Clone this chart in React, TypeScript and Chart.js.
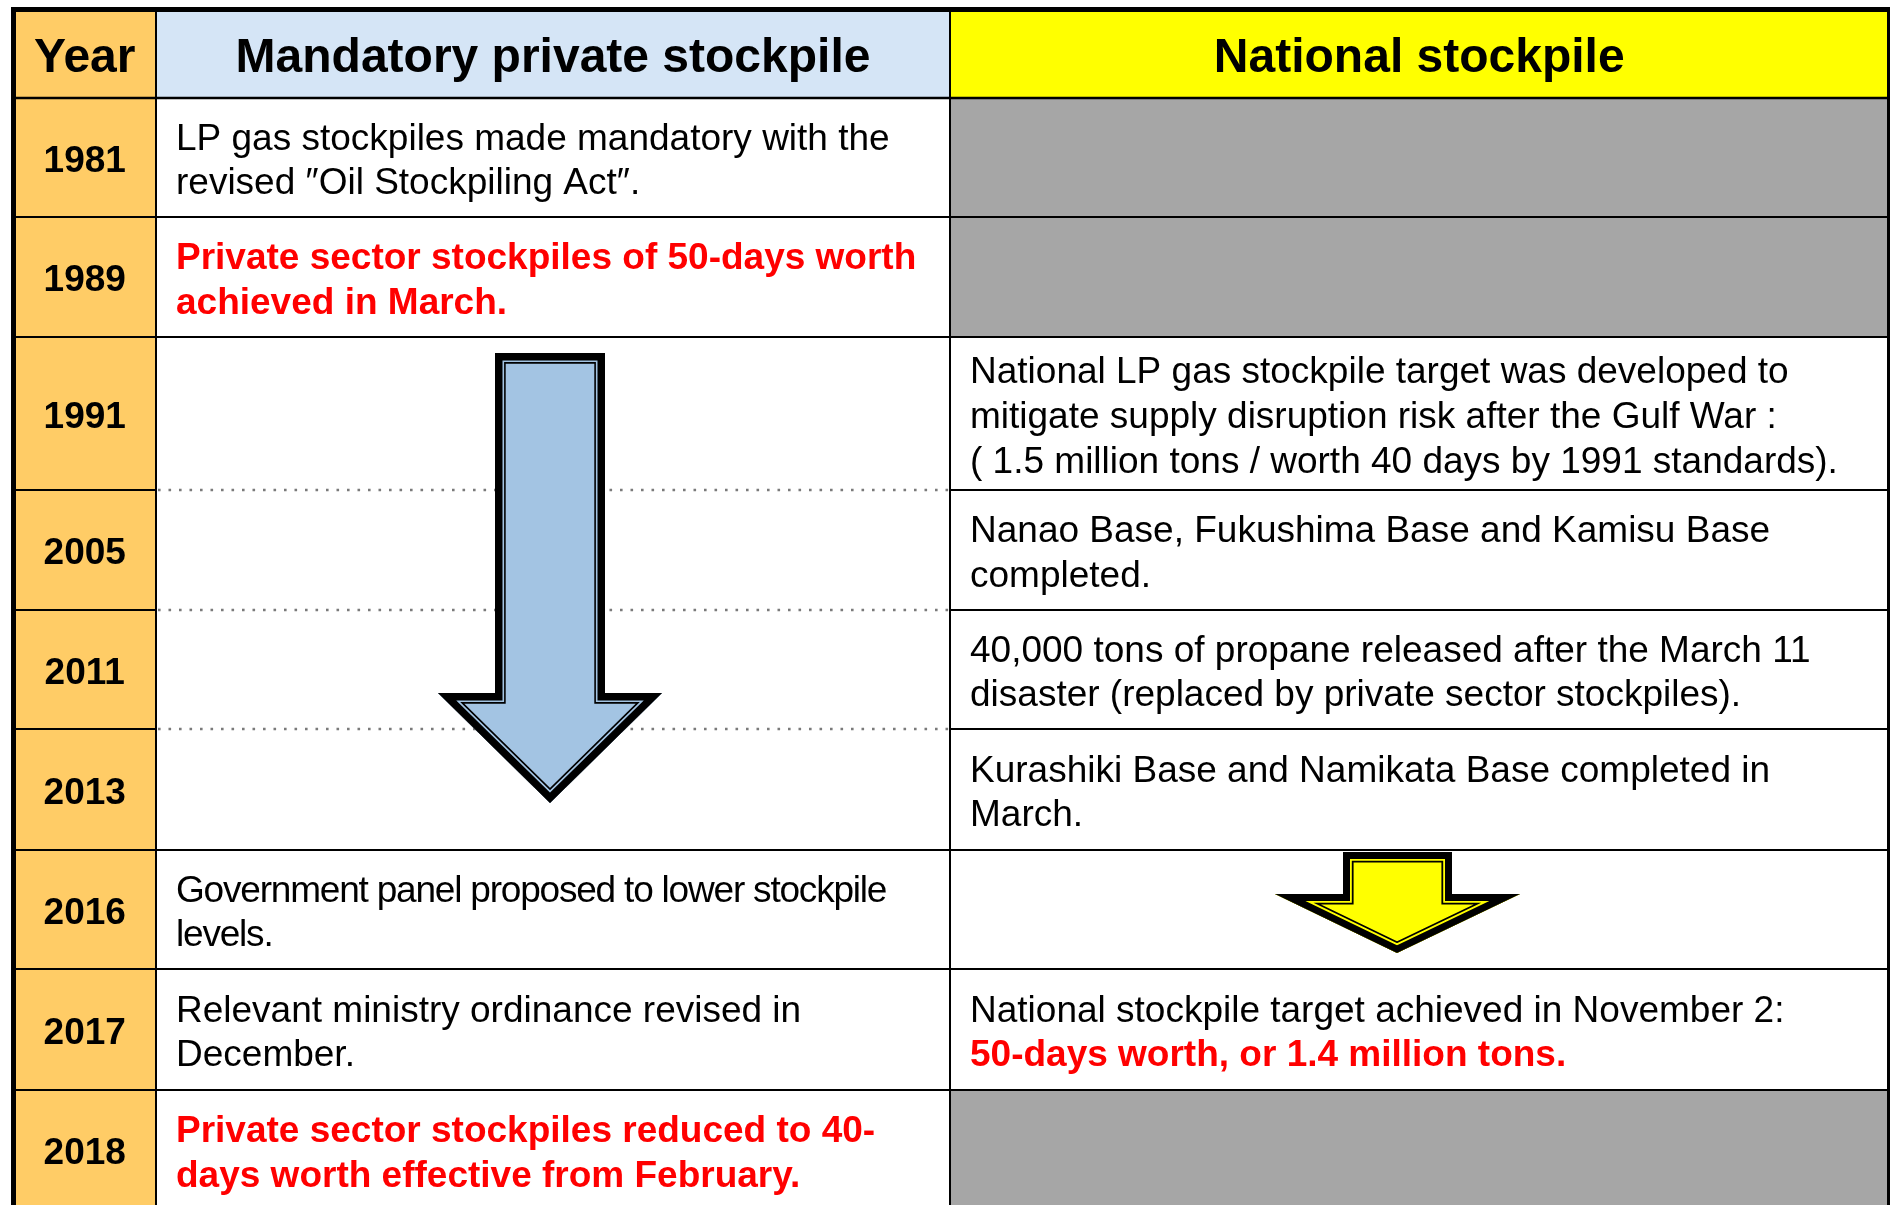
import React, { useEffect, useRef } from 'react';
import { Chart, registerables } from 'chart.js';

Chart.register(...registerables);

// ---------- content ----------
type Line = { text: string; red?: boolean };

const headers = ['Year', 'Mandatory private stockpile', 'National stockpile'];

const years = ['1981', '1989', '1991', '2005', '2011', '2013', '2016', '2017', '2018'];

// null = part of the merged "arrow" block
const privateCells: (Line[] | null)[] = [
  [{ text: 'LP gas stockpiles made mandatory with the' }, { text: 'revised \u2033Oil Stockpiling Act\u2033.' }],
  [{ text: 'Private sector stockpiles of 50-days worth', red: true }, { text: 'achieved in March.', red: true }],
  null,
  null,
  null,
  null,
  [{ text: 'Government panel proposed to lower stockpile' }, { text: 'levels.' }],
  [{ text: 'Relevant ministry ordinance revised in' }, { text: 'December.' }],
  [{ text: 'Private sector stockpiles reduced to 40-', red: true }, { text: 'days worth effective from February.', red: true }],
];

// 'gray' = shaded empty cell, 'arrow' = arrow cell
const nationalCells: (Line[] | 'gray' | 'arrow')[] = [
  'gray',
  'gray',
  [
    { text: 'National LP gas stockpile target was developed to' },
    { text: 'mitigate supply disruption risk after the Gulf War :' },
    { text: '( 1.5 million tons / worth 40 days by 1991 standards).' },
  ],
  [{ text: 'Nanao Base, Fukushima Base and Kamisu Base' }, { text: 'completed.' }],
  [{ text: '40,000 tons of propane released after the March 11' }, { text: 'disaster (replaced by private sector stockpiles).' }],
  [{ text: 'Kurashiki Base and Namikata Base completed in' }, { text: 'March.' }],
  'arrow',
  [{ text: 'National stockpile target achieved in November 2:' }, { text: '50-days worth, or 1.4 million tons.', red: true }],
  'gray',
];

// ---------- layout (scale units) ----------
const ROW_EDGES = [9.5, 98, 217, 337, 490, 610, 729, 850, 969, 1090, 1210];
const COL_EDGES = [13.5, 156, 950, 1888.5];
const PAD_X = 20;
const LINE_H = 44.6;
const BODY_SIZE = 37;
const HEAD_SIZE = 48;
const TEXT_SHIFT = 1.2;
const FONT = '"Liberation Sans", Arial, sans-serif';

const BLUE_ARROW = { sL: 495, sR: 605, top: 353, headY: 693, hL: 438, hR: 662, tipX: 550, tipY: 803 };
const YELLOW_ARROW = { sL: 1343, sR: 1452, top: 852, headY: 894, hL: 1275, hR: 1520, tipX: 1397, tipY: 953 };

const COLORS = {
  year: '#FFCC66',
  headPrivate: '#D5E5F6',
  headNational: '#FFFF00',
  gray: '#A6A6A6',
  grid: '#000000',
  dotted: '#7A7A7A',
  arrowBlue: '#A3C4E3',
  arrowYellow: '#FFFF00',
  red: '#FF0000',
  text: '#000000',
};

const tablePlugin = {
  id: 'timelineTable',
  afterDraw(chart: any) {
    const ctx: CanvasRenderingContext2D = chart.ctx;
    const xs = chart.scales.x;
    const ys = chart.scales.y;
    const X = (v: number) => xs.getPixelForValue(v);
    const Y = (v: number) => ys.getPixelForValue(v);

    const rect = (x0: number, y0: number, x1: number, y1: number, color: string) => {
      ctx.fillStyle = color;
      ctx.fillRect(X(x0), Y(y0), X(x1) - X(x0), Y(y1) - Y(y0));
    };
    const hline = (x0: number, x1: number, y: number, lw: number, color = COLORS.grid, dash: number[] = []) => {
      ctx.save();
      ctx.strokeStyle = color;
      ctx.lineWidth = lw;
      ctx.setLineDash(dash);
      ctx.beginPath();
      ctx.moveTo(X(x0), Y(y));
      ctx.lineTo(X(x1), Y(y));
      ctx.stroke();
      ctx.restore();
    };
    const vline = (x: number, y0: number, y1: number, lw: number, color = COLORS.grid) => {
      ctx.save();
      ctx.strokeStyle = color;
      ctx.lineWidth = lw;
      ctx.beginPath();
      ctx.moveTo(X(x), Y(y0));
      ctx.lineTo(X(x), Y(y1));
      ctx.stroke();
      ctx.restore();
    };
    const arrow = (a: typeof BLUE_ARROW, fill: string, bands: number[]) => {
      const pts = [
        [a.sL, a.top], [a.sR, a.top], [a.sR, a.headY], [a.hR, a.headY],
        [a.tipX, a.tipY], [a.hL, a.headY], [a.sL, a.headY],
      ];
      ctx.save();
      ctx.beginPath();
      pts.forEach(([px, py], i) => (i ? ctx.lineTo(X(px), Y(py)) : ctx.moveTo(X(px), Y(py))));
      ctx.closePath();
      ctx.fillStyle = fill;
      ctx.fill();
      ctx.clip();
      ctx.lineJoin = 'miter';
      ctx.miterLimit = 20;
      const [b1, b2, b3] = bands;
      const seq: [number, string][] = [
        [2 * (b1 + b2 + b3), '#000'],
        [2 * (b1 + b2), fill],
        [2 * b1, '#000'],
      ];
      seq.forEach(([lw, c]) => {
        ctx.lineWidth = lw;
        ctx.strokeStyle = c;
        ctx.stroke();
      });
      ctx.restore();
    };
    const text = (
      s: string, x: number, yCenter: number, size: number, bold: boolean,
      color: string, align: CanvasTextAlign, spacing = 0,
    ) => {
      ctx.save();
      ctx.font = `${bold ? 'bold ' : ''}${size}px ${FONT}`;
      ctx.fillStyle = color;
      ctx.textAlign = align;
      ctx.textBaseline = 'alphabetic';
      (ctx as any).letterSpacing = `${spacing}px`;
      ctx.fillText(s, X(x), Y(yCenter + TEXT_SHIFT) + size * 0.716 / 2);
      ctx.restore();
    };
    const lines = (ls: Line[], x: number, y0: number, y1: number, spacing = 0) => {
      const c = (y0 + y1) / 2;
      ls.forEach((l, i) => {
        const yc = c + (i - (ls.length - 1) / 2) * LINE_H;
        text(l.text, x, yc, BODY_SIZE, !!l.red, l.red ? COLORS.red : COLORS.text, 'left', spacing);
      });
    };

    const [c0, c1, c2, c3] = COL_EDGES;
    const nRows = years.length;
    const mergedRows = privateCells.map((c, i) => (c === null ? i : -1)).filter((i) => i >= 0);
    const mStart = mergedRows[0];
    const mEnd = mergedRows[mergedRows.length - 1];

    // backgrounds
    ctx.save();
    rect(0, 0, 1890, 1205, '#FFFFFF');
    rect(c0, ROW_EDGES[0], c1, ROW_EDGES[1], COLORS.year);
    rect(c1, ROW_EDGES[0], c2, ROW_EDGES[1], COLORS.headPrivate);
    rect(c2, ROW_EDGES[0], c3, ROW_EDGES[1], COLORS.headNational);
    for (let r = 0; r < nRows; r++) {
      const y0 = ROW_EDGES[r + 1];
      const y1 = ROW_EDGES[r + 2];
      rect(c0, y0, c1, y1, COLORS.year);
      if (nationalCells[r] === 'gray') rect(c2, y0, c3, y1, COLORS.gray);
    }

    // dotted separators inside merged block
    for (let r = mStart; r < mEnd; r++) {
      hline(c1 + 2, c2 - 1, ROW_EDGES[r + 2], 2.6, COLORS.dotted, [2.6, 7.9]);
    }

    // solid grid
    hline(c0, c3, ROW_EDGES[1], 2.5);
    for (let r = 0; r < nRows; r++) {
      const y = ROW_EDGES[r + 2];
      hline(c0, c1, y, 2);
      hline(c2, c3, y, 2);
      const inside = r >= mStart && r < mEnd;
      if (!inside) hline(c1, c2, y, 2);
    }
    vline(c1, ROW_EDGES[0], ROW_EDGES[ROW_EDGES.length - 1], 2);
    vline(c2, ROW_EDGES[0], ROW_EDGES[ROW_EDGES.length - 1], 2);

    // outer border
    hline(c0 - 2.5, c3 + 1.5, ROW_EDGES[0], 5);
    vline(c0, ROW_EDGES[0], ROW_EDGES[ROW_EDGES.length - 1], 5);
    vline(c3, ROW_EDGES[0], ROW_EDGES[ROW_EDGES.length - 1], 3);

    // arrows
    arrow(BLUE_ARROW, COLORS.arrowBlue, [7.5, 1.6, 1.6]);
    arrow(YELLOW_ARROW, COLORS.arrowYellow, [7, 1.8, 1.8]);

    // headers
    const hc = (ROW_EDGES[0] + ROW_EDGES[1]) / 2;
    text(headers[0], (c0 + c1) / 2, hc, HEAD_SIZE, true, COLORS.text, 'center');
    text(headers[1], (c1 + c2) / 2, hc, HEAD_SIZE, true, COLORS.text, 'center');
    text(headers[2], (c2 + c3) / 2, hc, HEAD_SIZE, true, COLORS.text, 'center');

    // body
    for (let r = 0; r < nRows; r++) {
      const y0 = ROW_EDGES[r + 1];
      const y1 = ROW_EDGES[r + 2];
      text(years[r], (c0 + c1) / 2, (y0 + y1) / 2, BODY_SIZE, true, COLORS.text, 'center');
      const p = privateCells[r];
      if (p) lines(p, c1 + PAD_X, y0, y1, r === 6 ? -1.2 : 0);
      const n = nationalCells[r];
      if (Array.isArray(n)) lines(n, c2 + PAD_X, y0, y1);
    }
    ctx.restore();
  },
};

export default function App() {
  const canvasRef = useRef<HTMLCanvasElement | null>(null);

  useEffect(() => {
    const canvas = canvasRef.current;
    if (!canvas) return;
    const chart = new Chart(canvas, {
      type: 'scatter',
      data: { datasets: [] },
      options: {
        animation: false,
        responsive: false,
        devicePixelRatio: 1,
        layout: { padding: 0 },
        plugins: { legend: { display: false }, tooltip: { enabled: false }, title: { display: false } },
        scales: {
          x: { type: 'linear', min: 0, max: 1890, display: false },
          y: { type: 'linear', min: 0, max: 1205, reverse: true, display: false },
        },
      },
      plugins: [tablePlugin],
    });
    return () => chart.destroy();
  }, []);

  return (
    <div style={{ position: 'fixed', left: 0, top: 0, width: 1890, height: 1205, background: '#fff' }}>
      <canvas ref={canvasRef} width={1890} height={1205} style={{ display: 'block', width: 1890, height: 1205 }} />
    </div>
  );
}
